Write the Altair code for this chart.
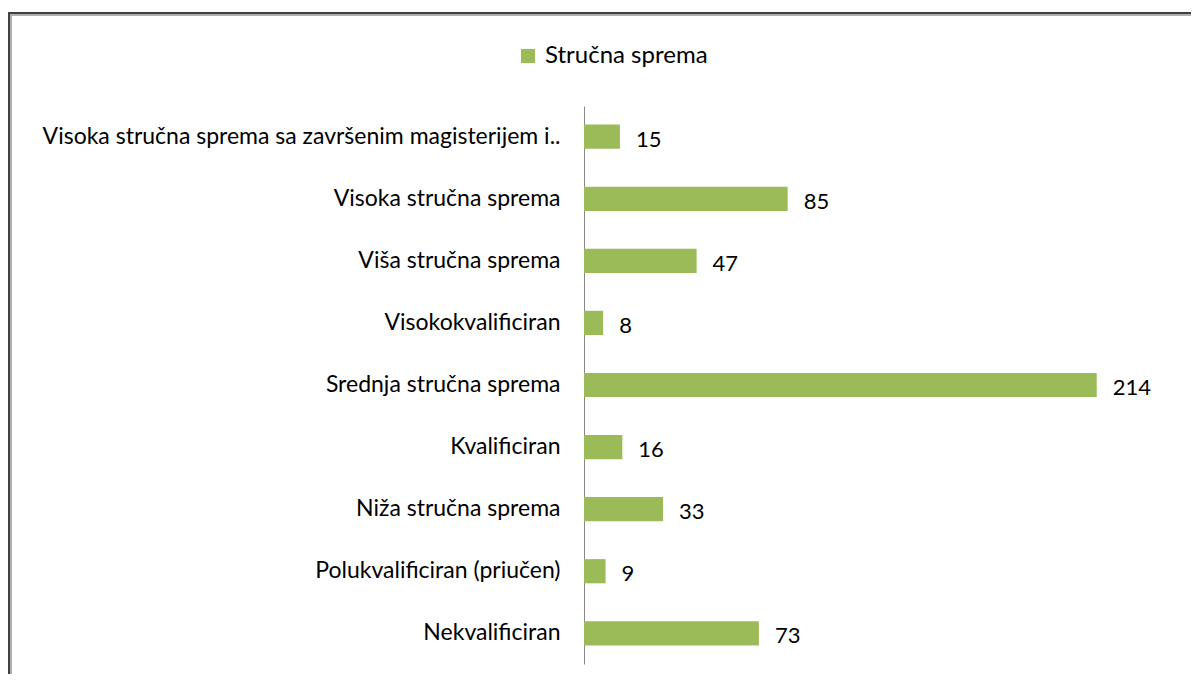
import altair as alt
import pandas as pd

categories = [
    "Visoka stručna sprema sa završenim magisterijem i..",
    "Visoka stručna sprema",
    "Viša stručna sprema",
    "Visokokvalificiran",
    "Srednja stručna sprema",
    "Kvalificiran",
    "Niža stručna sprema",
    "Polukvalificiran (priučen)",
    "Nekvalificiran",
]
values = [15, 85, 47, 8, 214, 16, 33, 9, 73]
series_name = "Stručna sprema"

df = pd.DataFrame({"cat": categories, "val": values, "series": series_name})

FONT = "Lato"
GREEN = "#9BBB59"

y_enc = alt.Y(
    "cat:N",
    sort=categories,
    scale=alt.Scale(paddingInner=0.61, paddingOuter=0.3),
    axis=alt.Axis(
        title=None, ticks=False, domain=True, domainColor="#888888", domainWidth=1,
        labelFont=FONT, labelFontSize=23, labelColor="#000000", labelPadding=24,
        labelLimit=700,
    ),
)
x_enc = alt.X("val:Q", scale=alt.Scale(domain=[0, 250], nice=False), axis=None)

bars = alt.Chart(df).mark_bar().encode(
    x=x_enc,
    y=y_enc,
    color=alt.Color(
        "series:N",
        scale=alt.Scale(range=[GREEN]),
        legend=alt.Legend(
            title=None, orient="none", legendX=-68, legendY=-62,
            symbolType="square", symbolSize=200, symbolStrokeWidth=0,
            labelFont=FONT, labelFontSize=24, labelColor="#000000", labelOffset=5,
            labelLimit=400,
        ),
    ),
)

labels = alt.Chart(df).mark_text(
    align="left", baseline="middle", dx=16, dy=3, font=FONT, fontSize=22, color="#000000"
).encode(x=x_enc, y=alt.Y("cat:N", sort=categories), text="val:Q")

frame_outer = alt.Chart(df).mark_rect(fill=None, stroke="#404040", strokeWidth=2).encode(
    x=alt.value(-575), x2=alt.value(660), y=alt.value(-93), y2=alt.value(620)
)
frame_inner = alt.Chart(df).mark_rect(fill=None, stroke="#b0b0b0", strokeWidth=2).encode(
    x=alt.value(-573), x2=alt.value(660), y=alt.value(-91), y2=alt.value(620)
)

chart = alt.layer(frame_outer, frame_inner, bars, labels).properties(
    width=599, height=558,
    background="white",
    autosize=alt.AutoSizeParams(type="none"),
    padding={"left": 576, "top": 98, "right": 8, "bottom": 10},
).configure_view(stroke=None, strokeWidth=0)

chart.save("out.html", embed_options={"renderer": "svg", "actions": False})
